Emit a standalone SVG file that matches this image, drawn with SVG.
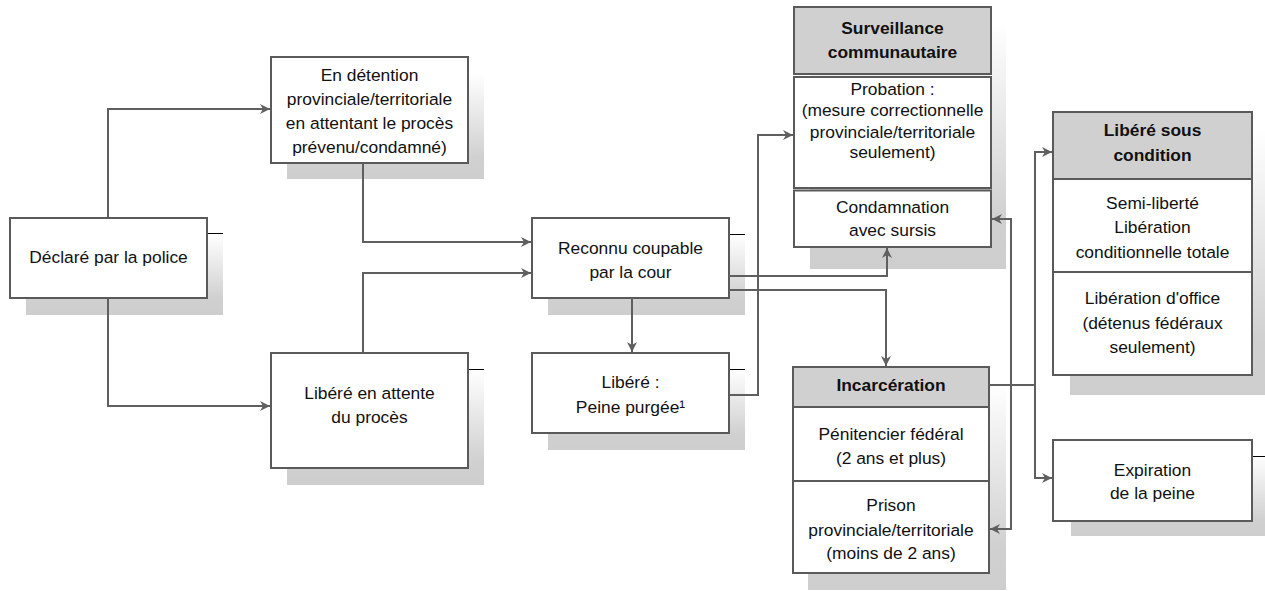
<svg xmlns="http://www.w3.org/2000/svg" width="1265" height="591" viewBox="0 0 1265 591">
<style>
.box{fill:#ffffff;stroke:#5a5a5a;stroke-width:2}
.hdr{fill:#d0d0d0;stroke:#5a5a5a;stroke-width:2}
.sh{fill:url(#shg)}
.tick{stroke:#000000;stroke-width:1}
.t{font-family:"Liberation Sans",Arial,sans-serif;font-size:17.4px;fill:#111111;text-anchor:middle}
.b{font-weight:bold}
.c{fill:none;stroke:#5f5f5f;stroke-width:2}
</style>
<defs>
<linearGradient id="shg" x1="0" y1="0" x2="0" y2="1">
<stop offset="0" stop-color="#ffffff"/>
<stop offset="0.8" stop-color="#d0d0d0"/>
<stop offset="1" stop-color="#cecece"/>
</linearGradient>
<marker id="ar" viewBox="0 0 10 10" refX="10" refY="5" markerWidth="10" markerHeight="10" markerUnits="userSpaceOnUse" orient="auto-start-reverse">
<path d="M0,0 L10,5 L0,10 L3,5 z" fill="#5f5f5f"/>
</marker>
</defs>

<g id="declare">
<rect class="sh" x="26" y="234" width="197" height="81"/>
<line class="tick" x1="207" y1="233.5" x2="223" y2="233.5"/>
<rect class="box" x="10" y="218" width="197" height="80"/>
<text class="t" x="108.5" y="263">Déclaré par la police</text>
</g>

<g id="detention">
<rect class="sh" x="287" y="73" width="197" height="106"/>
<rect class="box" x="271" y="57" width="197" height="106"/>
<text class="t" x="369.5" y="81">En détention</text>
<text class="t" x="369.5" y="105">provinciale/territoriale</text>
<text class="t" x="369.5" y="129">en attentant le procès</text>
<text class="t" x="369.5" y="153">prévenu/condamné)</text>
</g>

<g id="libere_attente">
<rect class="sh" x="287" y="369" width="197" height="116"/>
<line class="tick" x1="468" y1="369.5" x2="484" y2="369.5"/>
<rect class="box" x="271" y="353" width="197" height="115"/>
<text class="t" x="369.5" y="399">Libéré en attente</text>
<text class="t" x="369.5" y="423">du procès</text>
</g>

<g id="reconnu">
<rect class="sh" x="548" y="234" width="197" height="81"/>
<line class="tick" x1="729" y1="234.5" x2="745" y2="234.5"/>
<rect class="box" x="532" y="218" width="197" height="80"/>
<text class="t" x="630.5" y="254">Reconnu coupable</text>
<text class="t" x="630.5" y="278">par la cour</text>
</g>

<g id="libere_peine">
<rect class="sh" x="548" y="369" width="197" height="81"/>
<line class="tick" x1="729" y1="369.5" x2="745" y2="369.5"/>
<rect class="box" x="532" y="353" width="197" height="80"/>
<text class="t" x="630.5" y="388">Libéré :</text>
<text class="t" x="630.5" y="413">Peine purgée¹</text>
</g>

<g id="surveillance">
<rect class="sh" x="810" y="23" width="196" height="246"/>
<rect class="hdr" x="794" y="7" width="197" height="67"/>
<rect class="box" x="794" y="77" width="197" height="111"/>
<rect class="box" x="794" y="190.5" width="197" height="56.5"/>
<text class="t b" x="892.5" y="34">Surveillance</text>
<text class="t b" x="892.5" y="58">communautaire</text>
<text class="t" x="892.5" y="95">Probation :</text>
<text class="t" x="892.5" y="116">(mesure correctionnelle</text>
<text class="t" x="892.5" y="138">provinciale/territoriale</text>
<text class="t" x="892.5" y="158">seulement)</text>
<text class="t" x="892.5" y="213">Condamnation</text>
<text class="t" x="892.5" y="236">avec sursis</text>
</g>

<g id="incarceration">
<rect class="sh" x="808" y="383" width="198" height="207"/>
<rect class="hdr" x="793" y="367" width="196" height="40"/>
<rect class="box" x="793" y="407" width="196" height="74"/>
<rect class="box" x="793" y="481" width="196" height="92"/>
<text class="t b" x="891" y="391">Incarcération</text>
<text class="t" x="891" y="440">Pénitencier fédéral</text>
<text class="t" x="891" y="464">(2 ans et plus)</text>
<text class="t" x="891" y="511">Prison</text>
<text class="t" x="891" y="536">provinciale/territoriale</text>
<text class="t" x="891" y="559">(moins de 2 ans)</text>
</g>

<g id="libere_condition">
<rect class="sh" x="1070" y="128" width="199" height="267"/>
<rect class="hdr" x="1053" y="112" width="199" height="67"/>
<rect class="box" x="1053" y="179" width="199" height="93"/>
<rect class="box" x="1053" y="272" width="199" height="103"/>
<text class="t b" x="1152.5" y="136">Libéré sous</text>
<text class="t b" x="1152.5" y="161">condition</text>
<text class="t" x="1152.5" y="209">Semi-liberté</text>
<text class="t" x="1152.5" y="233">Libération</text>
<text class="t" x="1152.5" y="258">conditionnelle totale</text>
<text class="t" x="1152.5" y="304">Libération d'office</text>
<text class="t" x="1152.5" y="329">(détenus fédéraux</text>
<text class="t" x="1152.5" y="353">seulement)</text>
</g>

<g id="expiration">
<rect class="sh" x="1071" y="456" width="199" height="80"/>
<line class="tick" x1="1252" y1="456.5" x2="1265" y2="456.5"/>
<rect class="box" x="1053" y="440" width="199" height="81"/>
<text class="t" x="1152.5" y="476">Expiration</text>
<text class="t" x="1152.5" y="499">de la peine</text>
</g>

<g id="connectors">
<path class="c" d="M108,218 V109 H270" marker-end="url(#ar)"/>
<path class="c" d="M108,298 V406 H270" marker-end="url(#ar)"/>
<path class="c" d="M363,163 V242 H531" marker-end="url(#ar)"/>
<path class="c" d="M363,353 V273 H531" marker-end="url(#ar)"/>
<path class="c" d="M632,298 V352" marker-end="url(#ar)"/>
<path class="c" d="M729,395 H758 V135 H793" marker-end="url(#ar)"/>
<path class="c" d="M729,276 H887 V248" marker-end="url(#ar)"/>
<path class="c" d="M729,290 H886 V366" marker-end="url(#ar)"/>
<path class="c" d="M992,219 H1011 V529 H990" marker-start="url(#ar)" marker-end="url(#ar)"/>
<path class="c" d="M989,385 H1035"/>
<path class="c" d="M1052,152 H1035 V478 H1052" marker-start="url(#ar)" marker-end="url(#ar)"/>
</g>
</svg>
